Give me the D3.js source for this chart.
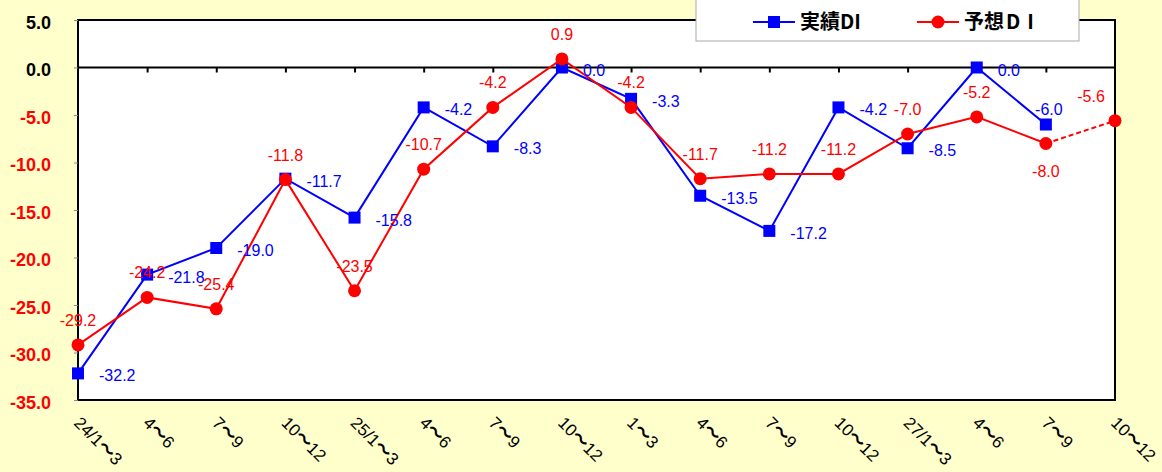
<!DOCTYPE html>
<html>
<head>
<meta charset="utf-8">
<script src="https://cdn.jsdelivr.net/npm/d3@7"></script>
<style>
  body { margin: 0; background: #ffffcc; }
  svg { display: block; font-family: "Liberation Sans", Arial, sans-serif; }
</style>
</head>
<body>
<div id="chart"></div>
<script>
var WIDTH = 1162, HEIGHT = 472;
var margin = {top: 20, right: 47, bottom: 72, left: 78};

var categories = ["24/1〜3", "4〜6", "7〜9", "10〜12", "25/1〜3", "4〜6", "7〜9", "10〜12",
                  "1〜3", "4〜6", "7〜9", "10〜12", "27/1〜3", "4〜6", "7〜9", "10〜12"];
var actualDI = [-32.2, -21.8, -19.0, -11.7, -15.8, -4.2, -8.3, 0.0,
                -3.3, -13.5, -17.2, -4.2, -8.5, 0.0, -6.0, null];
var forecastDI = [-29.2, -24.2, -25.4, -11.8, -23.5, -10.7, -4.2, 0.9,
                  -4.2, -11.7, -11.2, -11.2, -7.0, -5.2, -8.0, -5.6];
var yTicks = [5, 0, -5, -10, -15, -20, -25, -30, -35];

var w = WIDTH - margin.left - margin.right;
var h = HEIGHT - margin.top - margin.bottom;

// plain hyphen minus, like the original
var fmt = function(v) { return v.toFixed(1); };

var svg = d3.select("#chart").append("svg")
    .attr("width", WIDTH)
    .attr("height", HEIGHT);

var g = svg.append("g")
  .attr("transform", "translate(" + margin.left + "," + margin.top + ")");

var xScale = d3.scalePoint().domain(d3.range(categories.length)).range([0, w]);
var yScale = d3.scaleLinear().domain([-35, 5]).range([h, 0]);

// plot area
g.append("rect")
  .attr("width", w)
  .attr("height", h)
  .style("fill", "#fff")
  .style("stroke", "#000")
  .style("stroke-width", 2);

// y axis: ticks outside, labels bold, negatives in red
var yAxis = g.append("g")
  .call(d3.axisLeft(yScale).tickValues(yTicks).tickSize(4).tickPadding(23).tickFormat(fmt))
  .call(g => g.select(".domain").remove());
yAxis.selectAll(".tick line").style("stroke", "#888");
yAxis.selectAll(".tick text")
  .attr("dy", null)
  .attr("y", 8)
  .style("font-size", "18px")
  .style("font-weight", "bold")
  .style("fill", d => d < 0 ? "#ff0000" : "#000");

// x axis on the zero line
var xAxis = g.append("g")
  .attr("transform", "translate(0," + yScale(0) + ")")
  .call(d3.axisBottom(xScale).tickSize(5).tickFormat(""))
  .call(g => g.select(".domain").remove());
xAxis.selectAll(".tick line").style("stroke", "#000").style("stroke-width", 2);
xAxis.selectAll(".tick").filter((d, i) => i == 0 || i == categories.length - 1).remove();

g.append("line")
  .attr("x1", 0).attr("x2", w)
  .attr("y1", yScale(0)).attr("y2", yScale(0))
  .style("stroke", "#000")
  .style("stroke-width", 2);

// category labels below the plot, rotated; the wave dash drawn a bit heavier
var catText = g.append("g").selectAll("text")
  .data(categories)
  .enter().append("text")
  .attr("transform", (d, i) => "translate(" + (xScale(i) - 5) + "," + (h + 24) + ") rotate(45)")
  .style("font-size", "17px")
  .style("fill", "#000");
catText.each(function(d) {
  var parts = d.split("〜");
  var t = d3.select(this);
  t.append("tspan").text(parts[0]);
  t.append("tspan").style("font-weight", "bold").style("font-family", "'Noto Sans CJK JP', sans-serif").text("〜");
  t.append("tspan").text(parts[1]);
});

var line = d3.line()
  .defined(d => d.v != null)
  .x(d => xScale(d.i))
  .y(d => yScale(d.v));

var blue = actualDI.map((v, i) => ({i: i, v: v}));
var red = forecastDI.map((v, i) => ({i: i, v: v}));
var last = red.length - 1;

g.append("path")
  .attr("d", line(blue))
  .style("fill", "none")
  .style("stroke", "#0000ff")
  .style("stroke-width", 2);

g.selectAll(".sq")
  .data(blue.filter(d => d.v != null))
  .enter().append("rect")
  .attr("class", "sq")
  .attr("x", d => xScale(d.i) - 6)
  .attr("y", d => yScale(d.v) - 6)
  .attr("width", 12)
  .attr("height", 12)
  .style("fill", "#0000ff");

g.append("path")
  .attr("d", line(red.slice(0, last)))
  .style("fill", "none")
  .style("stroke", "#ff0000")
  .style("stroke-width", 2);

g.append("path")
  .attr("d", line(red.slice(last - 1)))
  .style("fill", "none")
  .style("stroke", "#ff0000")
  .style("stroke-width", 2)
  .style("stroke-dasharray", "5,3");

g.selectAll(".dot")
  .data(red)
  .enter().append("circle")
  .attr("class", "dot")
  .attr("cx", d => xScale(d.i))
  .attr("cy", d => yScale(d.v))
  .attr("r", 6.5)
  .style("fill", "#ff0000");

// value labels
g.selectAll(".blab")
  .data(blue.filter(d => d.v != null))
  .enter().append("text")
  .attr("class", "blab")
  .attr("x", d => d.i == 14 ? xScale(d.i) + 3 : xScale(d.i) + 21)
  .attr("y", d => d.i == 14 ? yScale(d.v) - 10 : yScale(d.v) + 8)
  .style("text-anchor", d => d.i == 14 ? "middle" : "start")
  .style("font-size", "16px")
  .style("fill", "#0000ff")
  .text(d => fmt(d.v));

g.selectAll(".rlab")
  .data(red)
  .enter().append("text")
  .attr("class", "rlab")
  .attr("x", d => d.i == last ? xScale(d.i) - 24 : xScale(d.i))
  .attr("y", d => d.i == 14 ? yScale(d.v) + 33 : yScale(d.v) - 19)
  .style("text-anchor", "middle")
  .style("font-size", "16px")
  .style("fill", "#ff0000")
  .text(d => fmt(d.v));

// legend
var legend = svg.append("g").attr("transform", "translate(696,0)");
legend.append("rect")
  .attr("x", 0).attr("y", -1)
  .attr("width", 383).attr("height", 42)
  .style("fill", "#fff")
  .style("stroke", "#aaa")
  .style("stroke-width", 1);

var items = [
  {name: "実績", tail: "DI", color: "#0000ff", shape: "square", x: 57, spacing: 0},
  {name: "予想", tail: "DI", color: "#ff0000", shape: "circle", x: 221, spacing: 7}
];
items.forEach(function(it) {
  var lg = legend.append("g").attr("transform", "translate(" + it.x + ",22)");
  lg.append("line").attr("x1", 0).attr("x2", 42)
    .style("stroke", it.color).style("stroke-width", 2);
  if (it.shape == "square") {
    lg.append("rect").attr("x", 15).attr("y", -6).attr("width", 12).attr("height", 12).style("fill", it.color);
  } else {
    lg.append("circle").attr("cx", 21).attr("r", 6.5).style("fill", it.color);
  }
  var t = lg.append("text")
    .attr("x", 47).attr("y", 7)
    .style("font-family", "'Noto Sans CJK JP', sans-serif")
    .style("font-size", "20px")
    .style("font-weight", "bold")
    .style("fill", "#000")
    .text(it.name);
  t.append("tspan")
    .attr("dx", it.spacing ? 2 : 0)
    .style("letter-spacing", it.spacing + "px")
    .text(it.tail);
});
</script>
</body>
</html>
